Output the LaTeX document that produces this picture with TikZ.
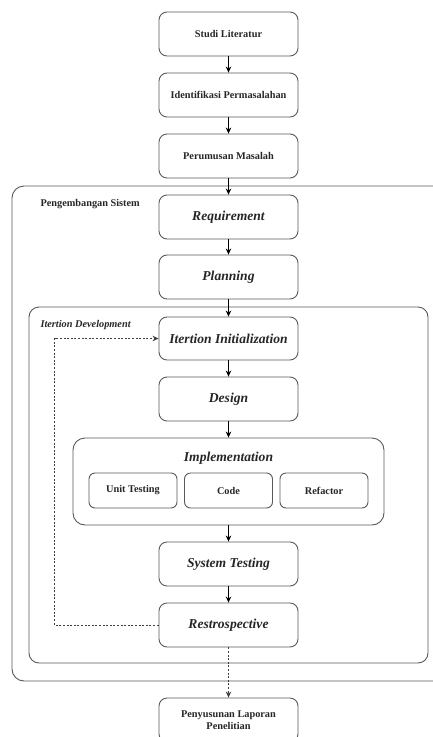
\documentclass[tikz,border=0pt]{standalone}
\usepackage{fontspec}
\setmainfont{Liberation Serif}
\usetikzlibrary{arrows.meta}

\tikzstyle{box}=[draw=black!65,line width=0.9pt,rounded corners=8pt,minimum width=139pt,minimum height=44pt,align=center,font=\fontsize{10.3}{12}\selectfont\bfseries,text=black!85]
\tikzstyle{phase}=[box,font=\fontsize{13.6}{16}\selectfont\bfseries\itshape]
\tikzstyle{sub}=[box,minimum width=88pt,minimum height=35pt,rounded corners=6pt]
\tikzstyle{grp}=[draw=black!65,line width=0.9pt,rounded corners=12pt]
\tikzstyle{flow}=[-{Stealth[length=6pt,width=5.5pt]},black,line width=0.8pt]
\tikzstyle{back}=[flow,draw=black!75,dash pattern=on 2pt off 1.6pt]
\def\cx{228.5}

\begin{document}
\begin{tikzpicture}[x=1pt,y=-1pt]
\useasboundingbox (0,0) rectangle (433,737);

% groups
\draw[grp] (12,186) rectangle (448,681);
\draw[grp,rounded corners=10pt] (29,307) rectangle (428,663);
\node[anchor=west,font=\fontsize{10.3}{12}\selectfont\bfseries,text=black!85] (lblsys) at (37,204) {Pengembangan Sistem};
\node[anchor=west,font=\fontsize{10.3}{12}\selectfont\bfseries\itshape,text=black!85] (lbliter) at (37,325) {Itertion Development};

% before development
\node[box] (studi) at (\cx,34) {Studi Literatur};
\node[box] (ident) at (\cx,95) {Identifikasi Permasalahan};
\node[box] (rumus) at (\cx,156) {Perumusan Masalah};

% development
\node[phase] (req) at (\cx,217) {Requirement};
\node[phase] (plan) at (\cx,277) {Planning};
\node[phase,minimum height=43pt] (init) at (\cx,338.5) {Itertion Initialization};
\node[phase] (design) at (\cx,399) {Design};
\node[grp,minimum width=311pt,minimum height=87pt] (impl) at (\cx,481.5) {};
\node[font=\fontsize{13.6}{16}\selectfont\bfseries\itshape,text=black!85] (impltxt) at (\cx,458) {Implementation};
\node[sub] (unit) at (133,490.5) {Unit Testing};
\node[sub] (code) at (\cx,490.5) {Code};
\node[sub] (refac) at (324,490.5) {Refactor};
\node[phase] (systest) at (\cx,564) {System Testing};
\node[phase] (retro) at (\cx,625) {Restrospective};

% after development
\node[box] (lapor) at (\cx,720) {Penyusunan Laporan\\Penelitian};

% arrows
\draw[flow] (studi) -- (ident);
\draw[flow] (ident) -- (rumus);
\draw[flow] (rumus) -- (req);
\draw[flow] (req) -- (plan);
\draw[flow] (plan) -- (init);
\draw[flow] (init) -- (design);
\draw[flow] (design) -- (impl);
\draw[flow] (impl) -- (systest);
\draw[flow] (systest) -- (retro);
\draw[back] (retro.west) -- (54.5,625) |- (init.west);
\draw[back] (retro) -- (lapor);
\end{tikzpicture}
\end{document}
